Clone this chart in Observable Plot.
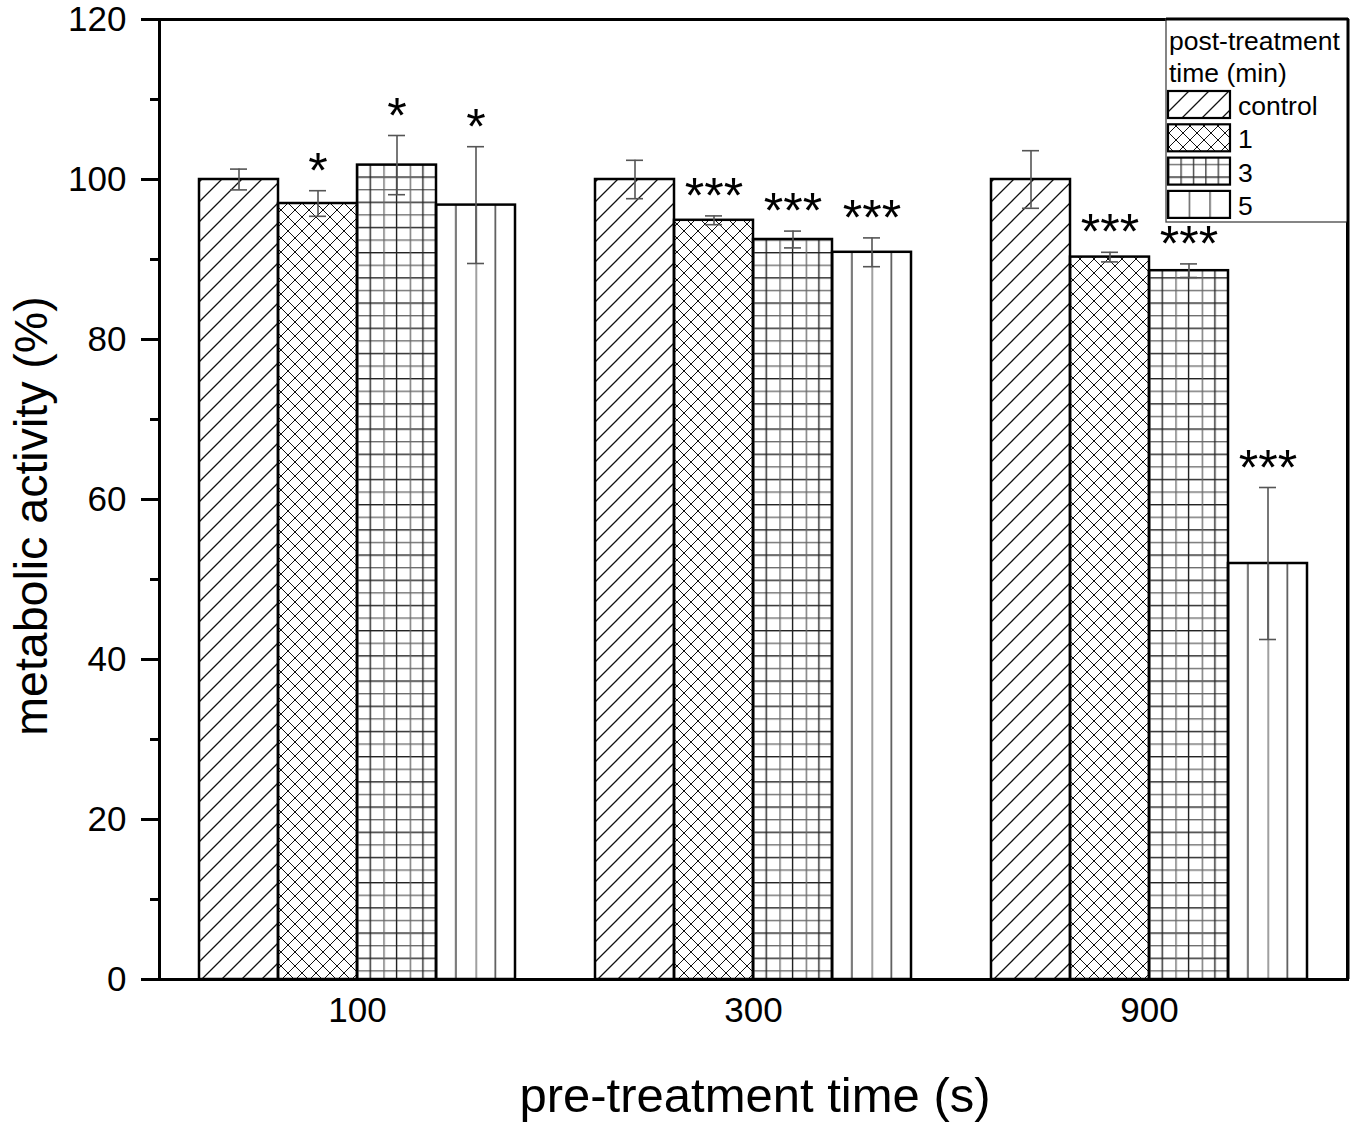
<!DOCTYPE html>
<html><head><meta charset="utf-8">
<script src="https://cdn.jsdelivr.net/npm/d3@7"></script>
<script src="https://cdn.jsdelivr.net/npm/@observablehq/plot@0.6"></script>
<style>body{margin:0;background:#fff;}</style>
</head><body><div id="chart"></div>
<script>
// ---- data ----
const preTimes = ["100", "300", "900"];
const postSeries = ["control", "1", "3", "5"];
const controlVals = [100.0, 100.0, 100.0];
const controlErr  = [1.3, 2.4, 3.6];
const min1Vals = [97.0, 94.9, 90.3];
const min1Err  = [1.6, 0.55, 0.6];
const min3Vals = [101.8, 92.5, 88.6];
const min3Err  = [3.7, 1.05, 0.85];
const min5Vals = [96.8, 90.9, 52.0];
const min5Err  = [7.3, 1.8, 9.5];
const controlSig = ["", "", ""];
const min1Sig = ["*", "***", "***"];
const min3Sig = ["*", "***", "***"];
const min5Sig = ["*", "***", "***"];
const yMajorTicks = [0, 20, 40, 60, 80, 100, 120];
const yMinorTicks = [10, 30, 50, 70, 90, 110];
const yLabel = "metabolic activity (%)";
const xLabel = "pre-treatment time (s)";
const legendTitle = ["post-treatment", "time (min)"];

// hatch fill: base pattern + overlay pattern (anchored to each bar)
const baseFill = {"control": "url(#pat-control)", "1": "url(#pat-1)", "3": "url(#pat-3h)", "5": "white"};
const overFill = {"control": "none", "1": "none", "3": "url(#pat-3v)", "5": "url(#pat-5v)"};
const legendOver = {"control": "none", "1": "none", "3": "url(#lpat-3v)", "5": "url(#lpat-5v)"};
const seriesVals = [controlVals, min1Vals, min3Vals, min5Vals];
const seriesErr = [controlErr, min1Err, min3Err, min5Err];
const seriesSig = [controlSig, min1Sig, min3Sig, min5Sig];

const rows = [];
preTimes.forEach((g, gi) => {
  postSeries.forEach((s, si) => {
    rows.push({group: g, series: s, value: seriesVals[si][gi], err: seriesErr[si][gi],
               sig: seriesSig[si][gi], base: baseFill[s], over: overFill[s]});
  });
});

const W = 1355, H = 1123;
const mL = 158, mT = 19, mR = 7, mB = 144;

const plot = Plot.plot({
  width: W, height: H,
  marginLeft: mL, marginTop: mT, marginRight: mR, marginBottom: mB,
  style: {fontFamily: "'Liberation Sans', Arial, sans-serif", fontSize: "35px", background: "white"},
  fx: {domain: preTimes, paddingInner: 0, paddingOuter: 0, label: null},
  x: {domain: postSeries, paddingInner: 0, paddingOuter: 0.5, axis: null},
  y: {domain: [0, 120], label: null},
  color: {type: "identity"},
  marks: [
    Plot.barY(rows, {fx: "group", x: "series", y: "value", fill: "base"}),
    Plot.barY(rows, {fx: "group", x: "series", y: "value", fill: "over", stroke: "black", strokeWidth: 2.5}),
    Plot.ruleX(rows, {fx: "group", x: "series", y1: d => d.value - d.err, y2: d => d.value + d.err, stroke: "#555", strokeWidth: 1.6}),
    Plot.tickY(rows, {fx: "group", x: "series", y: d => d.value + d.err, stroke: "#555", strokeWidth: 1.6, insetLeft: 31, insetRight: 31}),
    Plot.tickY(rows, {fx: "group", x: "series", y: d => d.value - d.err, stroke: "#555", strokeWidth: 1.6, insetLeft: 31, insetRight: 31}),
    Plot.text(rows, {fx: "group", x: "series", y: d => d.value + d.err, text: "sig", dy: -3, lineAnchor: "bottom", fontSize: 50, fill: "black"}),
    Plot.axisY({ticks: yMajorTicks, tickSize: 18, tickPadding: 15, strokeWidth: 3, label: null, tickFormat: d => String(d)}),
    Plot.axisY({ticks: yMinorTicks, tickSize: 9, strokeWidth: 3, label: null, tickFormat: () => ""}),
    Plot.axisFx({anchor: "bottom", tickSize: 0, tickPadding: 18, label: null}),
    Plot.frame({facet: "super", stroke: "black", strokeWidth: 3})
  ]
});

document.getElementById("chart").appendChild(plot);

const svg = d3.select(plot);
const defs = svg.insert("defs", ":first-child");

function addPattern(id, w, h, bg, draw, bbox) {
  const p = defs.append("pattern").attr("id", id)
    .attr("patternUnits", bbox ? "objectBoundingBox" : "userSpaceOnUse")
    .attr("patternContentUnits", "userSpaceOnUse")
    .attr("width", w).attr("height", h);
  if (bg) p.append("rect").attr("width", bbox ? 2000 : w).attr("height", bbox ? 2000 : h).attr("fill", bg);
  draw(p, w, h);
}
addPattern("pat-control", 20, 20, "white", (p, w, h) => {
  p.append("path").attr("d", `M0,${h} L${w},0 M${-w/2},${h/2} L${w/2},${-h/2} M${w/2},${h*1.5} L${w*1.5},${h/2}`)
    .attr("stroke", "#111").attr("stroke-width", 1.3).attr("fill", "none");
});
addPattern("pat-1", 14, 14, "white", (p, w, h) => {
  p.append("path").attr("d", `M0,${h} L${w},0 M${-w/2},${h/2} L${w/2},${-h/2} M${w/2},${h*1.5} L${w*1.5},${h/2} M0,0 L${w},${h} M${-w/2},${h/2} L${w/2},${h*1.5} M${w/2},${-h/2} L${w*1.5},${h/2}`)
    .attr("stroke", "#111").attr("stroke-width", 1.0).attr("fill", "none");
});
addPattern("pat-3h", 20, 25.2, "white", (p, w, h) => {
  p.append("path").attr("d", `M0,0.7 H${w}`).attr("stroke", "#222").attr("stroke-width", 1.4);
  p.append("path").attr("d", `M0,${h/2 + 0.7} H${w}`).attr("stroke", "#666").attr("stroke-width", 1.3);
});
// vertical lines anchored at each bar's left edge (bar = 6 cells / 4 cells)
addPattern("pat-3v", 1/3, 1, null, (p) => {
  p.append("path").attr("d", `M${79.5/6},0 V2000`).attr("stroke", "#222").attr("stroke-width", 1.4);
  p.append("path").attr("d", `M0.7,0 V2000`).attr("stroke", "#666").attr("stroke-width", 1.3);
}, true);
addPattern("pat-5v", 0.5, 1, null, (p) => {
  p.append("path").attr("d", `M${79.5/4},0 V2000`).attr("stroke", "#333").attr("stroke-width", 1.4);
  p.append("path").attr("d", `M0.7,0 V2000`).attr("stroke", "#777").attr("stroke-width", 1.4);
}, true);
// legend swatch variants (62 px wide swatches)
addPattern("lpat-3v", 1/5, 1, null, (p) => {
  p.append("path").attr("d", `M0.7,0 V100`).attr("stroke", "#333").attr("stroke-width", 1.3);
}, true);
addPattern("lpat-5v", 1/3, 1, null, (p) => {
  p.append("path").attr("d", `M0.7,0 V100`).attr("stroke", "#555").attr("stroke-width", 1.4);
}, true);

// axis titles
svg.append("text").attr("transform", `translate(47,516) rotate(-90)`)
  .attr("text-anchor", "middle").attr("font-size", 46.5).attr("fill", "black").text(yLabel);
svg.append("text").attr("x", 755).attr("y", 1112)
  .attr("text-anchor", "middle").attr("font-size", 49).attr("fill", "black").text(xLabel);

// legend
const lg = svg.append("g").attr("text-anchor", "start");
const lx = 1166, ly = mT, lw = W - mR - 1166, lh = 203;
lg.append("rect").attr("x", lx).attr("y", ly).attr("width", lw).attr("height", lh)
  .attr("fill", "white").attr("stroke", "#444").attr("stroke-width", 1.3);
legendTitle.forEach((t, i) => {
  lg.append("text").attr("x", lx + 3).attr("y", ly + 31 + i * 32).attr("font-size", 26.5)
    .attr("text-anchor", "start").attr("fill", "black").text(t);
});
postSeries.forEach((s, i) => {
  const y0 = 91 + i * 33.3;
  lg.append("rect").attr("x", 1168).attr("y", y0).attr("width", 62).attr("height", 27)
    .attr("fill", baseFill[s]);
  lg.append("rect").attr("x", 1168).attr("y", y0).attr("width", 62).attr("height", 27)
    .attr("fill", legendOver[s]).attr("stroke", "black").attr("stroke-width", 2.2);
  lg.append("text").attr("x", 1238).attr("y", y0 + 24).attr("font-size", 26.5)
    .attr("text-anchor", "start").attr("fill", "black").text(s);
});
// redraw frame edges over the legend box
lg.append("line").attr("x1", W - mR).attr("x2", W - mR).attr("y1", mT).attr("y2", H - mB)
  .attr("stroke", "black").attr("stroke-width", 3);
lg.append("line").attr("x1", lx).attr("x2", W - mR).attr("y1", mT).attr("y2", mT)
  .attr("stroke", "black").attr("stroke-width", 3);
</script>
</body></html>
